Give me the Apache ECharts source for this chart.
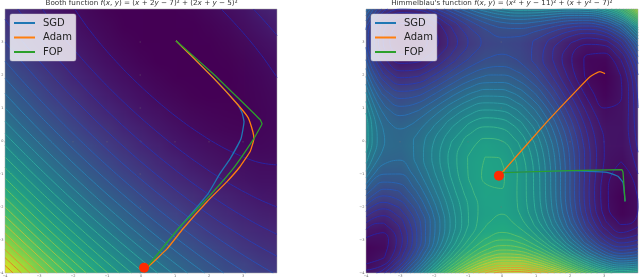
<!DOCTYPE html>
<html><head><meta charset="utf-8">
<script src="https://cdn.jsdelivr.net/npm/echarts@6/dist/echarts.min.js"></script>
<style>
html,body{margin:0;padding:0;background:#fff;width:640px;height:279px;overflow:hidden}
.panel{position:absolute;top:9px;width:272px;height:264px;overflow:hidden}
.cells{position:absolute;left:-8.5px;top:-8.5px;width:17px;height:17px;transform-origin:0 0;transform:scale(17,17)}
#lines{position:absolute;left:0;top:0;width:640px;height:279px;filter:blur(0.3px)}
</style></head><body>
<div class="panel" style="left:5px"><div class="cells" id="cellsA"></div></div>
<div class="panel" style="left:366px"><div class="cells" id="cellsB"></div></div>
<div id="lines"></div>
<script>
const gridX = [-4,-3.5,-3,-2.5,-2,-1.5,-1,-0.5,0,0.5,1,1.5,2,2.5,3,3.5,4];
const gridY = [4,3.5,3,2.5,2,1.5,1,0.5,0,-0.5,-1,-1.5,-2,-2.5,-3,-3.5,-4];
const tickValues = [-4,-3,-2,-1,0,1,2,3];
const seriesNames = ['SGD','Adam','FOP'];
const lineColors = ['#1f77b4','#ff7f0e','#2ca02c'];

const boothValues = [
[90,70.3,53,38.3,26,16.3,9,4.3,2,2.3,5,10.3,18,28.3,41,56.3,74],
[106.3,84.5,65.3,48.5,34.3,22.5,13.3,6.5,2.3,0.5,1.3,4.5,10.3,18.5,29.3,42.5,58.3],
[125,101.3,80,61.3,45,31.3,20,11.3,5,1.3,0,1.3,5,11.3,20,31.3,45],
[146.3,120.5,97.3,76.5,58.3,42.5,29.3,18.5,10.3,4.5,1.3,0.5,2.3,6.5,13.3,22.5,34.3],
[170,142.3,117,94.3,74,56.3,41,28.3,18,10.3,5,2.3,2,4.3,9,16.3,26],
[196.3,166.5,139.3,114.5,92.3,72.5,55.3,40.5,28.3,18.5,11.3,6.5,4.3,4.5,7.3,12.5,20.3],
[225,193.3,164,137.3,113,91.3,72,55.3,41,29.3,20,13.3,9,7.3,8,11.3,17],
[256.3,222.5,191.3,162.5,136.3,112.5,91.3,72.5,56.3,42.5,31.3,22.5,16.3,12.5,11.3,12.5,16.3],
[290,254.3,221,190.3,162,136.3,113,92.3,74,58.3,45,34.3,26,20.3,17,16.3,18],
[326.3,288.5,253.3,220.5,190.3,162.5,137.3,114.5,94.3,76.5,61.3,48.5,38.3,30.5,25.3,22.5,22.3],
[365,325.3,288,253.3,221,191.3,164,139.3,117,97.3,80,65.3,53,43.3,36,31.3,29],
[406.3,364.5,325.3,288.5,254.3,222.5,193.3,166.5,142.3,120.5,101.3,84.5,70.3,58.5,49.3,42.5,38.3],
[450,406.3,365,326.3,290,256.3,225,196.3,170,146.3,125,106.3,90,76.3,65,56.3,50],
[496.3,450.5,407.3,366.5,328.3,292.5,259.3,228.5,200.3,174.5,151.3,130.5,112.3,96.5,83.3,72.5,64.3],
[545,497.3,452,409.3,369,331.3,296,263.3,233,205.3,180,157.3,137,119.3,104,91.3,81],
[596.3,546.5,499.3,454.5,412.3,372.5,335.3,300.5,268.3,238.5,211.3,186.5,164.3,144.5,127.3,112.5,100.3],
[650,598.3,549,502.3,458,416.3,377,340.3,306,274.3,245,218.3,194,172.3,153,136.3,122]
];
const himmelValues = [
[106,57.8,40,42.8,58,78.8,100,117.8,130,135.8,136,132.8,130,132.8,148,183.8,250],
[73.8,25.6,7.3,9.1,22.8,41.6,60.3,75.1,83.8,85.6,81.3,73.1,64.8,61.6,70.3,99.1,157.8],
[68,20.3,2,3.3,16,33.3,50,62.3,68,66.3,58,45.3,32,23.3,26,48.3,100],
[78.8,32.1,14.3,15.6,27.8,44.1,59.3,69.6,72.8,68.1,56.3,39.6,21.8,8.1,5.3,21.6,66.8],
[98,52.8,36,37.8,50,65.8,80,88.8,90,82.8,68,47.8,26,7.8,0,10.8,50],
[118.8,75.6,60.3,63.1,75.8,91.6,105.3,113.1,112.8,103.6,86.3,63.1,37.8,15.6,3.3,9.1,42.8],
[136,95.3,82,86.3,100,116.3,130,137.3,136,125.3,106,80.3,52,26.3,10,11.3,40],
[145.8,108.1,97.3,103.6,118.8,136.1,150.3,157.6,155.8,144.1,123.3,95.6,64.8,36.1,16.3,13.6,37.8],
[146,111.8,104,112.8,130,148.8,164,171.8,170,157.8,136,106.8,74,42.8,20,13.8,34],
[135.8,105.6,101.3,113.1,132.8,153.6,170.3,179.1,177.8,165.6,143.3,113.1,78.8,45.6,20.3,11.1,27.8],
[116,90.3,90,105.3,128,151.3,170,180.3,180,168.3,146,115.3,80,45.3,18,6.3,20],
[88.8,68.1,72.3,91.6,117.8,144.1,165.3,177.6,178.8,168.1,146.3,115.6,79.8,44.1,15.3,1.6,12.8],
[58,42.8,52,75.8,106,135.8,160,174.8,178,168.8,148,117.8,82,45.8,16,0.8,10],
[28.8,19.6,34.3,63.1,97.8,131.6,159.3,177.1,182.8,175.6,156.3,127.1,91.8,55.6,25.3,9.1,16.8],
[8,5.3,26,60.3,100,138.3,170,191.3,200,195.3,178,150.3,116,80.3,50,33.3,40],
[3.8,8.1,35.3,75.6,120.8,164.1,200.3,225.6,237.8,236.1,221.3,195.6,162.8,128.1,98.3,81.6,87.8],
[26,37.8,72,118.8,170,218.8,260,289.8,306,307.8,296,272.8,242,208.8,180,163.8,170]
];
const boothLevels = [25,50,75,100,125,150,175,200,225,250,275,300,325,350,375,400,425,450,475,500,525,550,575,600,625];
const himmelLevels = [10,20,30,40,50,60,70,80,90,100,110,120,130,140,150,160,170,179,190,200,210,220,230,240,250,260,270,280,290,300];

const boothSGD = [[0.09,-3.84],[0.206,-3.78],[1.147,-2.6],[1.97,-1.6],[2.32,-0.99],[2.62,-0.54],[2.94,0.07],[3.03,0.58],[2.97,0.86],[2.85,1.1],[2.12,1.92],[1.03,3.04]];
const boothAdam = [[0.09,-3.84],[0.206,-3.81],[0.765,-3.27],[1.235,-2.66],[1.94,-1.84],[2.53,-1.23],[2.91,-0.78],[3.21,-0.32],[3.32,0.07],[3.29,0.28],[3.15,0.71],[2.85,1.1],[2.12,1.92],[1.03,3.04]];
const boothFOP = [[0.09,-3.84],[0.206,-3.78],[1.147,-2.6],[1.94,-1.75],[2.71,-0.84],[3.32,0.07],[3.5,0.4],[3.56,0.52],[3.5,0.65],[2.85,1.31],[2.12,2.04],[1.03,3.04]];
const himmelSGD = [[-0.09,-1.05],[0,-0.96],[2,-0.9],[3.09,-0.95],[3.41,-1.07],[3.56,-1.26],[3.62,-1.83]];
const himmelAdam = [[-0.09,-1.05],[0,-0.96],[1.32,0.58],[2.21,1.55],[2.59,1.95],[2.88,2.1],[3.03,2.04]];
const himmelFOP = [[-0.09,-1.05],[0,-0.96],[2,-0.9],[3.53,-0.87],[3.56,-0.95],[3.62,-1.83]];
const boothStart = [[0.09,-3.84]];
const himmelStart = [[-0.09,-1.05]];

const viridis = ['#440154','#482475','#414487','#355f8d','#2a788e','#21918c','#22a884','#44bf70','#7ad151','#bddf26','#fde725'];
const contourStops = [[0,'#2a1a9c'],[0.15,'#2a3cb0'],[0.3,'#2a7cb2'],[0.45,'#30ae98'],[0.6,'#62c25e'],[0.75,'#c4c636'],[0.88,'#e29230'],[1,'#e06025']];

function cellChart(id, values, max){
  const data=[]; values.forEach((row,j)=>row.forEach((v,i)=>data.push([i,j,v])));
  const c=echarts.init(document.getElementById(id),null,{renderer:'canvas',devicePixelRatio:1});
  c.setOption({animation:false,grid:{left:0,right:0,top:0,bottom:0,outerBoundsMode:'none'},
    xAxis:{type:'category',data:gridX,show:false},
    yAxis:{type:'category',data:gridY,inverse:true,show:false},
    visualMap:{show:false,min:0,max:max,inRange:{color:viridis}},
    series:[{type:'heatmap',data:data,silent:true,progressive:0,animation:false}]});
}
cellChart('cellsA',boothValues,650);
cellChart('cellsB',himmelValues,307.8);

function mix(t){
  for(let k=1;k<contourStops.length;k++){
    if(t<=contourStops[k][0]){
      const a=contourStops[k-1],b=contourStops[k],f=(t-a[0])/(b[0]-a[0]);
      const p=c=>[1,3,5].map(i=>parseInt(c.substr(i,2),16));
      const A=p(a[1]),B=p(b[1]);
      return 'rgb('+A.map((v,i)=>Math.round(v+(B[i]-v)*f)).join(',')+')';
    }
  }
  return contourStops[contourStops.length-1][1];
}
// where a level crosses a grid edge: the cubic through the four nearest read values along that line
function crossing(line,i,level){
  const n=line.length, s=Math.max(0,Math.min(n-4,i-1));
  const p=[line[s],line[s+1],line[s+2],line[s+3]];
  const f=t=>{
    let sum=0;
    for(let a=0;a<4;a++){let w=1;for(let b=0;b<4;b++)if(b!==a)w*=(t-b)/(a-b);sum+=p[a]*w;}
    return sum;
  };
  let lo=i-s,hi=lo+1,flo=f(lo)-level;
  for(let k=0;k<30;k++){
    const m=(lo+hi)/2,fm=f(m)-level;
    if((fm>=0)===(flo>=0)){lo=m;flo=fm;}else hi=m;
  }
  return (lo+hi)/2+s-i;
}
function traceLevel(z,level){
  const adj={},pts={};
  const col=i=>z.map(r=>r[i]);
  const hPoint=(j,i)=>[gridX[i]+crossing(z[j],i,level)*0.5,gridY[j]];
  const vPoint=(j,i)=>[gridX[i],gridY[j]-crossing(col(i),j,level)*0.5];
  const add=(k1,p1,k2,p2)=>{pts[k1]=p1;pts[k2]=p2;const s=[k1,k2];(adj[k1]=adj[k1]||[]).push(s);(adj[k2]=adj[k2]||[]).push(s);};
  for(let j=0;j<z.length-1;j++)for(let i=0;i<z[0].length-1;i++){
    const a=z[j][i],b=z[j][i+1],c=z[j+1][i+1],d=z[j+1][i];
    const e=[];
    if((a>=level)!==(b>=level))e.push(['h'+j+'_'+i,hPoint(j,i)]);
    if((b>=level)!==(c>=level))e.push(['v'+j+'_'+(i+1),vPoint(j,i+1)]);
    if((d>=level)!==(c>=level))e.push(['h'+(j+1)+'_'+i,hPoint(j+1,i)]);
    if((a>=level)!==(d>=level))e.push(['v'+j+'_'+i,vPoint(j,i)]);
    if(e.length===2)add(e[0][0],e[0][1],e[1][0],e[1][1]);
    else if(e.length===4){
      const m=(a+b+c+d)/4;
      if((a>=level)===(m>=level)){add(e[0][0],e[0][1],e[1][0],e[1][1]);add(e[2][0],e[2][1],e[3][0],e[3][1]);}
      else{add(e[0][0],e[0][1],e[3][0],e[3][1]);add(e[1][0],e[1][1],e[2][0],e[2][1]);}
    }
  }
  const used=new Set(),out=[];
  const walk=start=>{
    const path=[pts[start]];let cur=start;
    while(true){
      const s=(adj[cur]||[]).find(q=>!used.has(q));
      if(!s)break;
      used.add(s);cur=s[0]===cur?s[1]:s[0];path.push(pts[cur]);
    }
    out.push(path);
  };
  Object.keys(adj).filter(k=>adj[k].length===1).forEach(k=>{if(!used.has(adj[k][0]))walk(k);});
  Object.keys(adj).forEach(k=>{if(adj[k].some(s=>!used.has(s)))walk(k);});
  return out;
}
function contourSeries(z,levels,colorTop,gridIndex){
  const out=[];
  levels.forEach(l=>traceLevel(z,l).forEach(path=>out.push({
    type:'line',xAxisIndex:gridIndex,yAxisIndex:gridIndex,data:path,showSymbol:false,symbol:'none',smooth:0.45,silent:true,
    lineStyle:{width:1,color:mix(l/colorTop),opacity:1},z:2,legendHoverLink:false,animation:false})));
  return out;
}
function pathSeries(name,color,data,g,smooth){
  return {name:name,type:'line',xAxisIndex:g,yAxisIndex:g,data:data,showSymbol:false,symbol:'none',smooth:smooth,silent:true,
    lineStyle:{width:1.3,color:color},itemStyle:{color:color},z:5,animation:false};
}
function dot(data,g){
  return {type:'scatter',xAxisIndex:g,yAxisIndex:g,data:data,symbolSize:10,itemStyle:{color:'#ff2a00',opacity:1},z:6,silent:true,animation:false};
}
const axisBase=(g)=>({type:'value',gridIndex:g,min:-4,max:4,splitLine:{show:false},
  axisLine:{show:false},
  axisTick:{show:true,length:1.5,lineStyle:{color:'#777',width:0.4},customValues:tickValues},
  axisLabel:{show:true,fontSize:3.5,color:'#666',margin:1.5,fontFamily:'DejaVu Sans',customValues:tickValues,
    formatter:v=>String(v).replace('-','\u2212')}});
const legendBase=(left)=>({left:left,top:14,orient:'vertical',data:seriesNames,icon:'rect',itemWidth:21,itemHeight:2,itemGap:2.5,
  padding:[3,4,3,4],backgroundColor:'rgba(255,255,255,0.8)',borderColor:'rgba(204,204,204,0.8)',borderWidth:0.5,borderRadius:2,
  selectedMode:false,textStyle:{fontFamily:'DejaVu Sans',fontSize:10,color:'#222',lineHeight:12,padding:[0,0,0,3]}});
const rich={i:{fontStyle:'italic',fontFamily:'DejaVu Sans',fontSize:7.2,color:'#333'}};
const titleBase=(text,center)=>({text:text,left:center,top:0,textAlign:'center',padding:0,
  textStyle:{fontFamily:'DejaVu Sans',fontSize:7.2,fontWeight:'normal',color:'#333',rich:rich}});

const chart=echarts.init(document.getElementById('lines'),null,{renderer:'canvas',devicePixelRatio:1});
chart.setOption({
  animation:false,backgroundColor:'transparent',
  title:[titleBase('Booth function {i|f}({i|x}, {i|y}) = ({i|x} + 2{i|y} \u2212 7)\u00b2 + (2{i|x} + {i|y} \u2212 5)\u00b2',141.5),
         titleBase("Himmelblau's function {i|f}({i|x}, {i|y}) = ({i|x}\u00b2 + {i|y} \u2212 11)\u00b2 + ({i|x} + {i|y}\u00b2 \u2212 7)\u00b2",501.8)],
  legend:[legendBase(10),legendBase(371)],
  grid:[{left:5,top:9,width:272,height:264,outerBoundsMode:'none',show:true,borderColor:'#aaa',borderWidth:0.5,backgroundColor:'transparent'},
        {left:366,top:9,width:272,height:264,outerBoundsMode:'none',show:true,borderColor:'#aaa',borderWidth:0.5,backgroundColor:'transparent'}],
  xAxis:[axisBase(0),axisBase(1)],
  yAxis:[axisBase(0),axisBase(1)],
  series:[].concat(
    contourSeries(boothValues,boothLevels,650,0),
    contourSeries(himmelValues,himmelLevels,335,1),
    [pathSeries(seriesNames[0],lineColors[0],boothSGD,0,0.12),
     pathSeries(seriesNames[1],lineColors[1],boothAdam,0,0.12),
     pathSeries(seriesNames[2],lineColors[2],boothFOP,0,0.12),
     pathSeries(seriesNames[0],lineColors[0],himmelSGD,1,0.12),
     pathSeries(seriesNames[1],lineColors[1],himmelAdam,1,0.15),
     pathSeries(seriesNames[2],lineColors[2],himmelFOP,1,0),
     dot(boothStart,0),dot(himmelStart,1)])
});
</script>
</body></html>
